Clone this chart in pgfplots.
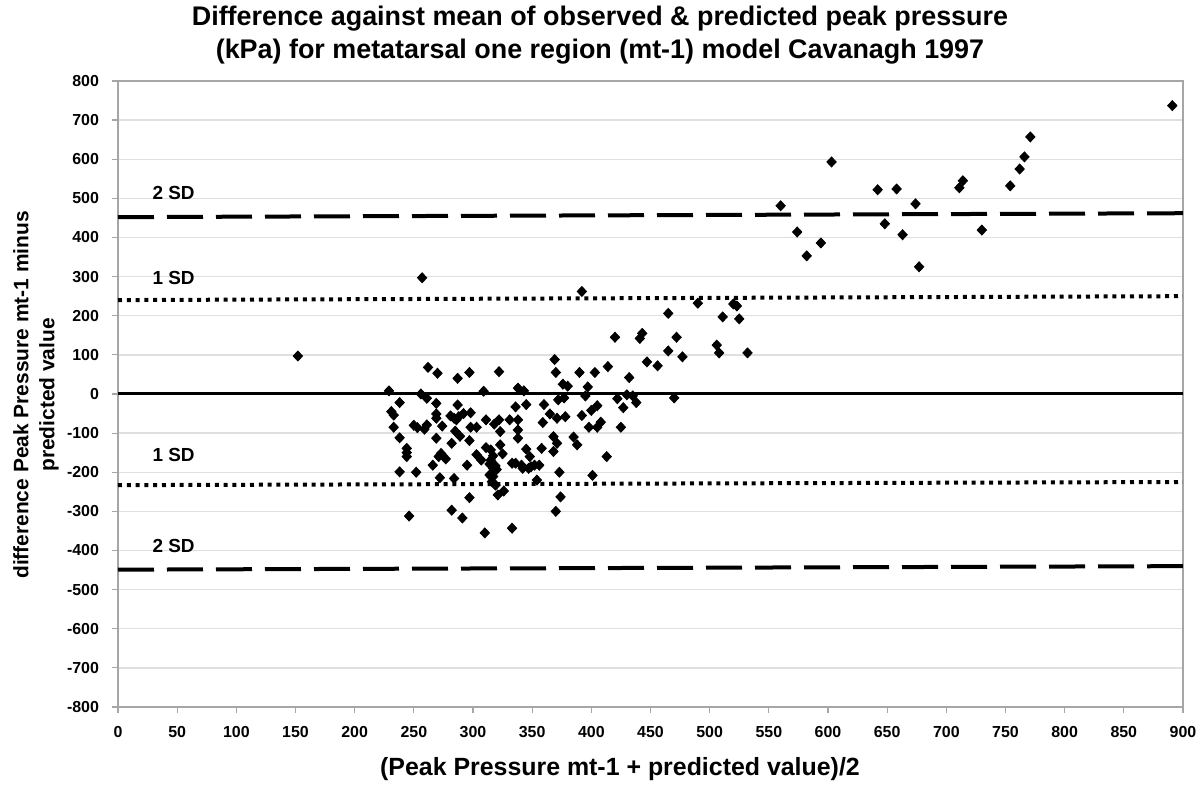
\documentclass[border=0pt]{standalone}
\usepackage{fontspec}
\setmainfont{Liberation Sans}
\usepackage{pgfplots}
\pgfplotsset{compat=1.18}
\begin{document}
\begin{tikzpicture}
\useasboundingbox (-59bp,-40.5bp) rectangle (541bp,353.5bp);
\begin{axis}[
  at={(0,0)}, anchor=south west,
  scale only axis, width=532.5bp, height=313bp,
  xmin=0, xmax=900, ymin=-800, ymax=800,
  xtick={0,50,...,900}, ytick={-800,-700,...,800},
  xtick pos=left, ytick pos=left,
  tick align=outside, major tick length=3bp,
  every tick/.style={gray!70, line width=0.6bp},
  axis line style={gray!70, line width=0.7bp},
  ymajorgrids, major grid style={gray!25, line width=0.7bp},
  /pgf/number format/assume math mode=true,
  /pgf/number format/fixed,
  /pgf/number format/1000 sep={},
  ticklabel style={font=\fontsize{8}{9}\selectfont\bfseries},
  xticklabel style={yshift=-3bp},
  yticklabel style={xshift=-3bp},
  clip=false,
]
% zero line
\addplot[black, line width=1.5bp, forget plot] coordinates {(0,0) (900,0)};
% 2 SD lines
\addplot[black, line width=2bp, dash pattern=on 18bp off 6.5bp, forget plot] coordinates {(0,452) (900,462)};
\addplot[black, line width=2bp, dash pattern=on 18bp off 6.5bp, forget plot] coordinates {(0,-449) (900,-440)};
% 1 SD lines
\addplot[black, line width=2bp, dash pattern=on 2bp off 2.4bp, forget plot] coordinates {(0,240) (900,250)};
\addplot[black, line width=2bp, dash pattern=on 2bp off 2.4bp, forget plot] coordinates {(0,-233) (900,-225)};
% data
\addplot[only marks, mark=diamond*, mark size=2.5bp, mark options={black, xscale=1.25}] table {
x y
152 97
257 297
392 262
891 737
771 657
766 606
762 575
754 532
730 419
714 545
711 527
677 325
674 486
663 407
658 524
648 435
642 522
603 593
594 386
582 353
574 414
560 481
532 105
525 192
523 225
520 230
511 197
508 105
506 125
490 232
477 95
472 145
470 -10
465 206
465 110
456 72
447 82
443 155
441 142
438 -22
435 -5
432 42
430 -2
427 -35
425 -85
422 -12
420 145
414 70
413 -160
408 -72
405 -85
405 -30
403 55
401 -208
400 -42
398 -85
397 18
395 -5
392 -55
390 55
388 -130
385 -110
380 20
378 -58
376 25
377 -10
373 -200
374 -263
370 -300
371 -126
368 -109
368 -147
372 -15
371 -62
370 55
369 88
365 -51
360 -27
359 -73
358 -139
356 -182
354 -220
352 -182
349 -186
348 -160
347 -190
345 -27
345 -141
343 8
342 -190
341 -182
338 15
338 -66
338 -92
338 -113
336 -33
336 -177
333 -177
331 -66
333 -343
325 -153
326 -248
321 -258
323 -130
323 -96
322 57
322 -66
320 -193
319 -184
319 -233
318 -77
317 -158
317 -190
317 -211
316 -224
315 -143
315 -169
314 -207
314 -179
311 -66
311 -137
310 -355
309 7
303 -85
303 -155
307 -169
298 -48
298 -85
297 55
297 -119
297 -265
295 -182
292 -50
291 -317
289 -108
285 -95
288 -58
287 40
287 -28
286 -66
284 -62
284 -216
282 -126
282 -297
281 -56
277 -166
274 -82
273 -152
271 -160
272 -214
270 53
269 -24
269 -51
269 -62
269 -113
266 -182
262 68
261 -11
261 -79
259 -90
256 0
253 -86
250 -80
252 -200
246 -312
244 -139
244 -150
244 -160
238 -22
238 -112
238 -199
233 -54
231 -45
233 -85
229 8
};
\node[font=\fontsize{9.5}{11}\selectfont\bfseries] at (axis cs:47,514) {2 SD};
\node[font=\fontsize{9.5}{11}\selectfont\bfseries] at (axis cs:47,297) {1 SD};
\node[font=\fontsize{9.5}{11}\selectfont\bfseries] at (axis cs:47,-156) {1 SD};
\node[font=\fontsize{9.5}{11}\selectfont\bfseries] at (axis cs:47,-389) {2 SD};
\end{axis}
% title
\node[anchor=base, font=\fontsize{13.5}{16}\selectfont\bfseries] at (241bp,340.5bp) {Difference against mean of observed \& predicted peak pressure};
\node[anchor=base, font=\fontsize{13.5}{16}\selectfont\bfseries] at (241bp,324bp) {(kPa) for metatarsal one region (mt-1) model Cavanagh 1997};
% y label
\node[rotate=90, align=center, font=\fontsize{10.5}{13}\selectfont\bfseries] at (-41bp,156bp) {difference Peak Pressure mt-1 minus\\predicted value};
% x label
\node[anchor=base, font=\fontsize{12.5}{15}\selectfont\bfseries] at (251bp,-34bp) {(Peak Pressure mt-1 + predicted value)/2};
\end{tikzpicture}
\end{document}
